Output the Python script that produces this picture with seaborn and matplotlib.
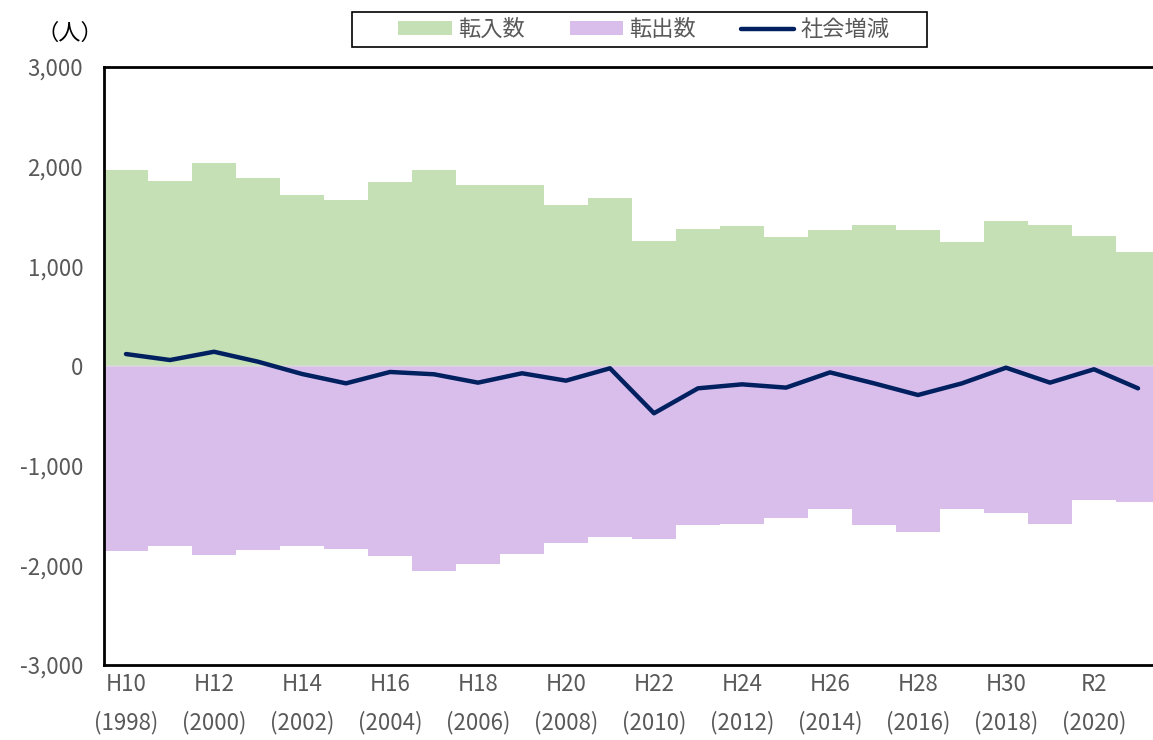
import numpy as np
import pandas as pd
import matplotlib
matplotlib.use("Agg")
import matplotlib.pyplot as plt
import seaborn as sns
from matplotlib.patches import Patch, Rectangle
from matplotlib.lines import Line2D

years = list(range(1998, 2022))
tick_labels = ["H10\n(1998)", "H12\n(2000)", "H14\n(2002)", "H16\n(2004)", "H18\n(2006)",
               "H20\n(2008)", "H22\n(2010)", "H24\n(2012)", "H26\n(2014)", "H28\n(2016)",
               "H30\n(2018)", "R2\n(2020)"]
in_moves = [1966, 1859, 2036, 1889, 1718, 1662, 1843, 1966, 1812, 1815, 1615, 1685,
            1257, 1371, 1401, 1297, 1367, 1411, 1364, 1244, 1457, 1411, 1304, 1143]
out_moves = [1853, 1805, 1896, 1849, 1805, 1839, 1906, 2053, 1989, 1886, 1772, 1715,
             1735, 1592, 1585, 1522, 1434, 1598, 1662, 1431, 1478, 1581, 1341, 1368]
net_change = [120, 60, 143, 43, -80, -174, -60, -83, -167, -73, -147, -23,
              -474, -224, -184, -217, -64, -174, -291, -174, -17, -167, -33, -224]

GREEN = "#C5E0B4"
PURPLE = "#D9BEEC"
NAVY = "#002060"
GRAY = "#595959"

sns.set_theme(style="white")
plt.rcParams['font.family'] = ['Noto Sans CJK JP', 'DejaVu Sans']

df = pd.DataFrame({"year": [str(y) for y in years],
                   "in": in_moves,
                   "out": [-v for v in out_moves],
                   "net": net_change,
                   "pos": np.arange(len(years))})

W, H = 1153, 740
fig = plt.figure(figsize=(W / 100, H / 100), dpi=100)
ax = fig.add_axes([104 / W, 1 - 665 / H, 1056 / W, 598 / H])

sns.barplot(data=df, x="year", y="in", color=GREEN, saturation=1, width=1.0,
            edgecolor="none", linewidth=0, ax=ax)
sns.barplot(data=df, x="year", y="out", color=PURPLE, saturation=1, width=1.0,
            edgecolor="none", linewidth=0, ax=ax)
ax.axhline(0, color="#D9D9D9", lw=1.2, zorder=2)
sns.lineplot(data=df, x="pos", y="net", color=NAVY, lw=3.2, ax=ax, zorder=3,
             solid_capstyle="round")

ax.set_xlim(-0.5, len(years) - 0.5)
ax.set_ylim(-3000, 3000)
ax.set_yticks(np.arange(-3000, 3001, 1000))
ax.set_yticklabels([f"{v:,}" for v in range(-3000, 3001, 1000)],
                   color=GRAY, fontsize=16)
ax.set_xticks(np.arange(0, 24, 2))
ax.set_xticklabels(tick_labels, color=GRAY, fontsize=16, linespacing=1.75)
ax.tick_params(axis="both", length=0)
ax.tick_params(axis="y", pad=15)
ax.tick_params(axis="x", pad=6)
ax.set_xlabel("")
ax.set_ylabel("")

for side in ["left", "top", "bottom"]:
    ax.spines[side].set_visible(True)
    ax.spines[side].set_color("black")
    ax.spines[side].set_linewidth(2)
ax.spines["right"].set_visible(False)

fig.text(70 / W, 1 - 33 / H, "（人）", ha="center", va="center", fontsize=16, color="black")

# legend frame
fig.add_artist(Rectangle((352 / W, 1 - 47 / H), (927 - 352) / W, 35 / H,
                         transform=fig.transFigure, facecolor="white",
                         edgecolor="black", lw=1.2, zorder=1))
handles = [Patch(facecolor=GREEN, edgecolor="none", label="転入数"),
           Patch(facecolor=PURPLE, edgecolor="none", label="転出数"),
           Line2D([0], [0], color=NAVY, lw=3.2, label="社会増減")]
leg = fig.legend(handles=handles, loc="center", bbox_to_anchor=(644 / W, 1 - 29.5 / H),
                 ncol=3, frameon=False, fontsize=16, handlelength=2.4, handleheight=0.6,
                 columnspacing=2.0, handletextpad=0.3, borderpad=0.25, borderaxespad=0)
leg.set_zorder(2)
for t in leg.get_texts():
    t.set_color(GRAY)

fig.savefig("out.png", dpi=100)
